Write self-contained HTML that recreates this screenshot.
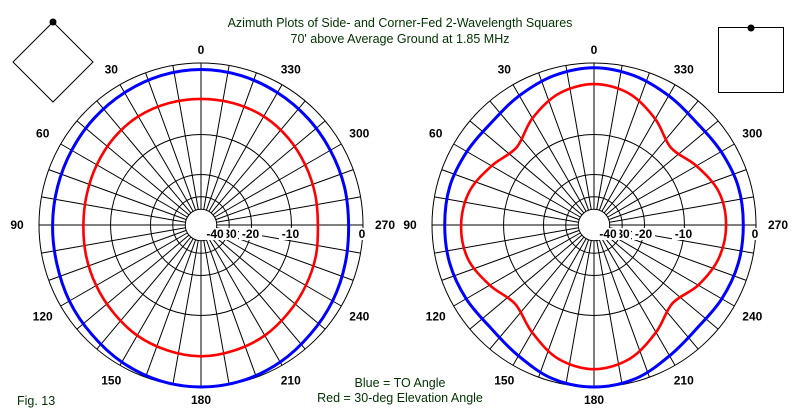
<!DOCTYPE html>
<html><head><meta charset="utf-8"><style>
html,body{margin:0;padding:0;background:#fff;}
svg{display:block;}
text{font-family:"Liberation Sans",sans-serif;}
.t{fill:#003300;font-size:12.5px;}
.al{font-size:12px;font-weight:bold;fill:#000;}
.rl{font-size:12px;font-weight:bold;fill:#000;}
</style></head><body>
<svg id="chart" width="800" height="415" viewBox="0 0 800 415">
<text class="t" x="400" y="27" text-anchor="middle">Azimuth Plots of Side- and Corner-Fed 2-Wavelength Squares</text>
<text class="t" x="400" y="43" text-anchor="middle">70' above Average Ground at 1.85 MHz</text>
<g>
<polygon points="53,22 93,62 53,102 13,62" fill="none" stroke="#000" stroke-width="1"/>
<circle cx="53" cy="22" r="3.5" fill="#000"/>
</g>
<g>
<rect x="718.5" y="27.5" width="65" height="65" fill="none" stroke="#000" stroke-width="1"/>
<circle cx="751" cy="28" r="3.5" fill="#000"/>
</g>
<text class="t" x="400" y="387" text-anchor="middle">Blue = TO Angle</text>
<text class="t" x="400" y="402" text-anchor="middle">Red = 30-deg Elevation Angle</text>
<text class="t" x="17" y="405">Fig. 13</text>
<g id="plots"></g>
</svg>
<script>
// azimuth angles (deg, 0 = top, counter-clockwise)
const azimuths = [0,15,30,45,60,75,90,105,120,135,150,165,180,195,210,225,240,255,270,285,300,315,330,345];
// left plot (corner-fed) dB values
const leftBlue = [-0.7,-0.8,-1.0,-1.2,-1.4,-1.5,-1.5,-1.4,-1.1,-0.8,-0.4,-0.1,0,-0.1,-0.4,-0.8,-1.1,-1.4,-1.6,-1.5,-1.4,-1.2,-1.0,-0.8];
const leftRed = [-4.3,-4.3,-4.4,-4.7,-5.1,-5.4,-5.5,-5.3,-5.0,-4.6,-4.1,-3.8,-3.6,-3.8,-4.1,-4.6,-5.0,-5.3,-5.6,-5.4,-5.1,-4.7,-4.4,-4.3];
// right plot (side-fed) dB values
const rightBlue = [-0.5,-0.8,-1.4,-1.9,-1.7,-1.4,-1.4,-1.4,-1.6,-1.8,-1.2,-0.3,0,-0.3,-1.2,-1.8,-1.6,-1.4,-1.4,-1.4,-1.7,-1.9,-1.4,-0.8];
const rightRed = [-2.4,-3.0,-4.7,-6.7,-5.4,-3.9,-3.4,-3.7,-5.1,-6.4,-4.6,-2.7,-2.0,-2.7,-4.6,-6.5,-5.1,-3.9,-3.5,-3.9,-5.4,-6.8,-4.8,-3.0];
// grid
const ringDb = [0,-10,-20,-30,-40];
const ringLabels = ["0","-10","-20","30","-40"];
const angleLabels = [0,30,60,90,120,150,180,210,240,270,300,330];

const NS='http://www.w3.org/2000/svg';
const R=162, CY=225;
function rScale(db){return R*Math.pow(0.89,-db/2);}
function pt(cx,az,r){const a=az*Math.PI/180;return [cx-r*Math.sin(a),CY-r*Math.cos(a)];}
function mk(tag,attrs,parent){const e=document.createElementNS(NS,tag);for(const k in attrs)e.setAttribute(k,attrs[k]);parent.appendChild(e);return e;}
function curve(cx,vals){
  const p=azimuths.map((az,i)=>pt(cx,az,rScale(vals[i])));
  const n=p.length;let d='M'+p[0][0].toFixed(1)+','+p[0][1].toFixed(1);
  for(let i=0;i<n;i++){
    const p0=p[(i-1+n)%n],p1=p[i],p2=p[(i+1)%n],p3=p[(i+2)%n];
    const c1=[p1[0]+(p2[0]-p0[0])/6,p1[1]+(p2[1]-p0[1])/6];
    const c2=[p2[0]-(p3[0]-p1[0])/6,p2[1]-(p3[1]-p1[1])/6];
    d+='C'+c1.map(v=>v.toFixed(1)).join(',')+' '+c2.map(v=>v.toFixed(1)).join(',')+' '+p2[0].toFixed(1)+','+p2[1].toFixed(1);
  }
  return d+'Z';
}
const root=document.getElementById('plots');
function plot(cx,blue,red,name){
  const g=mk('g',{},root);
  
  
  const grid=mk('g',{stroke:'#000','stroke-width':1,fill:'none'},g);
  
  
  ringDb.forEach(db=>{
    const c=mk('circle',{cx:cx,cy:CY,r:rScale(db)},grid);
    
    
  });
  const r0=rScale(-40);
  for(let a=0;a<360;a+=10){
    const s=pt(cx,a,r0),e=pt(cx,a,R);
    const l=mk('line',{x1:s[0],y1:s[1],x2:e[0],y2:e[1]},grid);
    
    
  }
  ringDb.forEach((db,i)=>{
    const off=db===-40?14:(db===-30?29:rScale(db)-1);
    const w=ringLabels[i].length*7+2;
    const bg=mk('rect',{x:cx+off-w/2,y:CY+3,width:w,height:12,fill:'#fff'},g);
    
    
    const t=mk('text',{x:cx+off,y:CY+13,'text-anchor':'middle',class:'rl'},g);
    t.textContent=ringLabels[i];
    
    
  });
  angleLabels.forEach(a=>{
    const s=Math.abs(Math.sin(a*Math.PI/180));
    const p=pt(cx,a,175+9*s);
    const t=mk('text',{x:p[0],y:p[1]+4,'text-anchor':'middle',class:'al'},g);
    t.textContent=String(a);
    
    
  });
  const b=mk('path',{d:curve(cx,blue),fill:'none',stroke:'#0000ff','stroke-width':3},g);
  
  
  const rr=mk('path',{d:curve(cx,red),fill:'none',stroke:'#ff0000','stroke-width':2.6},g);
  
  
}
plot(201,leftBlue,leftRed,'corner-fed-plot');
plot(594,rightBlue,rightRed,'side-fed-plot');
</script>
</body></html>
